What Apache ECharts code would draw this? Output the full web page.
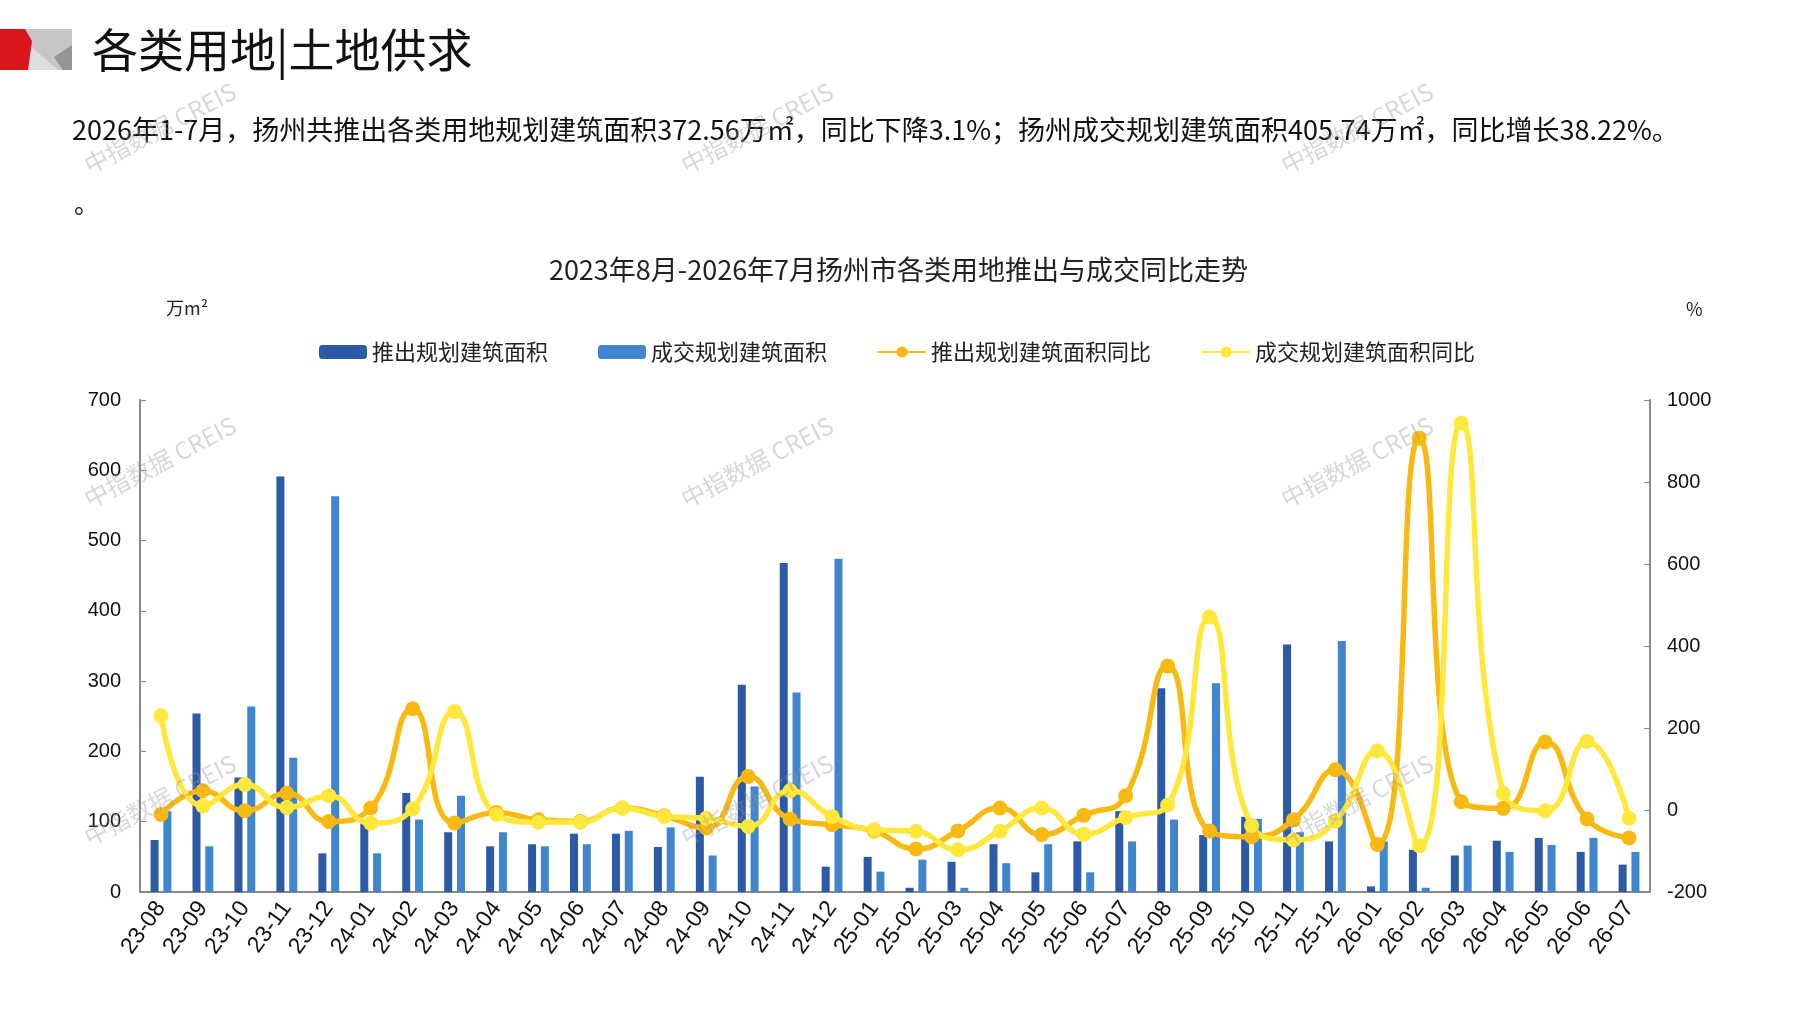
<!DOCTYPE html>
<html>
<head>
<meta charset="utf-8">
<script src="https://cdn.jsdelivr.net/npm/echarts@6/dist/echarts.min.js"></script>
<style>
  html, body { margin: 0; padding: 0; background: #fff; }
  #main { width: 1797px; height: 1010px; }
</style>
</head>
<body>
<div id="main"></div>
<script>
(function(){
    var myChart = echarts.init(document.getElementById('main'));

    var months = ['23-08','23-09','23-10','23-11','23-12','24-01','24-02','24-03','24-04','24-05','24-06','24-07',
                  '24-08','24-09','24-10','24-11','24-12','25-01','25-02','25-03','25-04','25-05','25-06','25-07',
                  '25-08','25-09','25-10','25-11','25-12','26-01','26-02','26-03','26-04','26-05','26-06','26-07'];
    // 推出规划建筑面积 (万m²)
    var supplyArea = [74,254,163,591,55,100,141,85,65,68,83,83,
                      64,164,295,468,36,50,6,43,68,28,72,115,
                      290,81,107,352,72,8,60,52,73,77,57,39];
    // 成交规划建筑面积 (万m²)
    var dealArea = [115,65,264,191,563,55,103,137,85,65,68,87,
                    92,52,150,284,474,29,46,6,41,68,28,72,
                    103,297,104,85,357,72,6,66,57,67,77,57];
    // 推出规划建筑面积同比 (%)
    var supplyYoy = [-11,47,-2,41,-28,5,247,-32,-6,-24,-28,5,
                     -14,-44,82,-22,-36,-51,-95,-51,5,-60,-13,35,
                     351,-51,-65,-24,98,-84,907,20,4,166,-22,-68];
    // 成交规划建筑面积同比 (%)
    var dealYoy = [230,10,62,6,35,-32,3,240,-11,-30,-30,5,
                   -16,-20,-40,47,-16,-48,-52,-97,-52,5,-59,-18,
                   12,471,-38,-73,-27,144,-87,944,41,-2,167,-20];

    var seriesNames = ['推出规划建筑面积', '成交规划建筑面积', '推出规划建筑面积同比', '成交规划建筑面积同比'];
    var leftTicks = [0, 700, 100];
    var rightTicks = [-200, 1000, 200];

    var cjk = '"Noto Sans CJK SC", sans-serif';
    var num = '"Liberation Sans", Arial, sans-serif';

    // watermark "中指数据 CREIS"
    var marks = [];
    [160, 757, 1357].forEach(function(x){
        [128, 462, 800].forEach(function(y){
            marks.push({
                type: 'text', x: x, y: y, rotation: 0.48, z: 100, silent: true,
                style: { text: '中指数据 CREIS', fill: 'rgba(150,150,150,0.38)', font: '24px ' + cjk,
                         textAlign: 'center', textVerticalAlign: 'middle' }
            });
        });
    });

    var option = {
        backgroundColor: '#fff',
        textStyle: { fontFamily: cjk },
        title: {
            text: '2023年8月-2026年7月扬州市各类用地推出与成交同比走势',
            left: 'center', top: 251,
            textStyle: { fontSize: 27, fontWeight: 'normal', color: '#222', fontFamily: cjk }
        },
        legend: {
            top: 336, left: 314,
            itemGap: 50, itemWidth: 48, itemHeight: 14,
            textStyle: { fontSize: 22, color: '#222', fontFamily: cjk },
            data: seriesNames
        },
        grid: { left: 140, right: 147, top: 400, bottom: 118 },
        xAxis: {
            type: 'category',
            data: months,
            axisLine: { lineStyle: { color: '#888', width: 2 } },
            axisTick: { inside: true, length: 7, lineStyle: { color: '#888' } },
            axisLabel: { rotate: 54, fontSize: 23, color: '#111', fontFamily: num, margin: 12 }
        },
        yAxis: [{
            type: 'value', min: leftTicks[0], max: leftTicks[1], interval: leftTicks[2],
            splitLine: { show: false },
            axisLine: { show: true, lineStyle: { color: '#888', width: 2 } },
            axisTick: { show: true, inside: true, length: 6, lineStyle: { color: '#888' } },
            axisLabel: { fontSize: 20, color: '#111', fontFamily: num, margin: 19 }
        }, {
            type: 'value', min: rightTicks[0], max: rightTicks[1], interval: rightTicks[2],
            splitLine: { show: false },
            axisLine: { show: true, lineStyle: { color: '#888', width: 2 } },
            axisTick: { show: true, inside: true, length: 6, lineStyle: { color: '#888' } },
            axisLabel: { fontSize: 20, color: '#111', fontFamily: num, margin: 17,
                         formatter: function(v){ return String(v); } }
        }],
        series: [{
            name: seriesNames[0], type: 'bar', data: supplyArea,
            barWidth: 8, barGap: '60%',
            itemStyle: { color: '#2c5aa6' }
        }, {
            name: seriesNames[1], type: 'bar', data: dealArea,
            barWidth: 8,
            itemStyle: { color: '#3f86cf' }
        }, {
            name: seriesNames[2], type: 'line', yAxisIndex: 1, data: supplyYoy,
            smooth: 0.5, symbol: 'circle', symbolSize: 15,
            lineStyle: { width: 5.5, color: '#f8ba12' },
            itemStyle: { color: '#f8ba12' }
        }, {
            name: seriesNames[3], type: 'line', yAxisIndex: 1, data: dealYoy,
            smooth: 0.5, symbol: 'circle', symbolSize: 15,
            lineStyle: { width: 5.5, color: '#ffe73c' },
            itemStyle: { color: '#ffe73c' }
        }],
        graphic: [
            { type: 'polygon', shape: { points: [[0,29],[72,29],[72,70],[0,70]] }, style: { fill: '#c6c6c6' } },
            { type: 'polygon', shape: { points: [[28,44],[58,70],[28,70]] }, style: { fill: '#dedede' } },
            { type: 'polygon', shape: { points: [[72,45],[54,57],[63,70],[72,70]] }, style: { fill: '#959595' } },
            { type: 'polygon', shape: { points: [[0,29],[25,29],[32,41],[28,70],[0,70]] }, style: { fill: '#d9161c' } },
            { type: 'text', x: 92, y: 50,
              style: { text: '各类用地|土地供求', font: '46px ' + cjk, fill: '#111', textVerticalAlign: 'middle' } },
            { type: 'text', x: 72, y: 130,
              style: { text: '2026年1-7月，扬州共推出各类用地规划建筑面积372.56万㎡，同比下降3.1%；扬州成交规划建筑面积405.74万㎡，同比增长38.22%。',
                       font: '27px ' + cjk, fill: '#111', textVerticalAlign: 'middle' } },
            { type: 'text', x: 74, y: 203,
              style: { text: '。', font: '25px ' + cjk, fill: '#111', textVerticalAlign: 'middle' } },
            { type: 'text', x: 166, y: 308,
              style: { text: '万m²', font: '18px ' + cjk, fill: '#222', textVerticalAlign: 'middle' } },
            { type: 'text', x: 1686, y: 309,
              style: { text: '%', font: '18px ' + cjk, fill: '#222', textVerticalAlign: 'middle' } }
        ].concat(marks)
    };

    myChart.setOption(option);
})()
</script>
</body>
</html>
